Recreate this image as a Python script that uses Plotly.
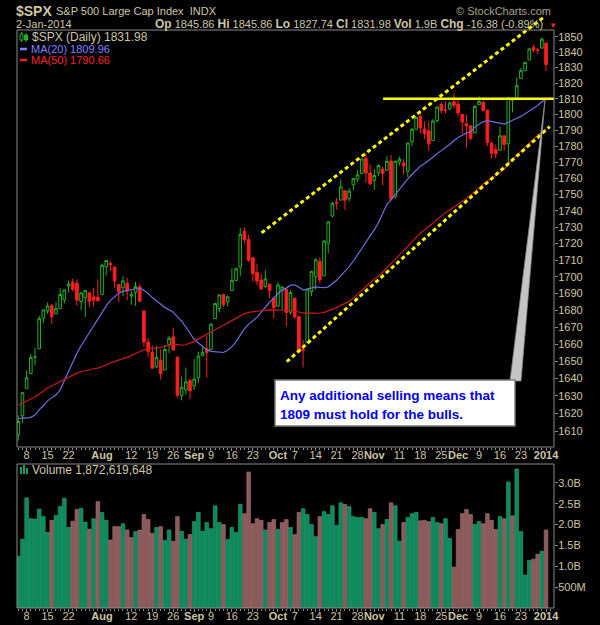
import pandas as pd
import numpy as np
import plotly.graph_objects as go

# ---------------- data ----------------
holidays = ["2013-07-04", "2013-09-02", "2013-11-28", "2013-12-25", "2014-01-01"]
dates = [d for d in pd.bdate_range("2013-07-03", "2014-01-02") if d.strftime("%Y-%m-%d") not in holidays]

opens = [
    1607.78, 1618.65, 1634.20, 1642.89, 1652.50, 1657.41, 1675.26, 1679.59, 1682.70, 1677.91,
    1681.05, 1686.15, 1694.41, 1696.63, 1696.06, 1685.21, 1687.31, 1690.32, 1687.92, 1687.76,
    1689.42, 1706.10, 1708.01, 1705.79, 1695.30, 1693.35, 1696.10, 1688.37, 1690.65, 1693.88,
    1679.61, 1661.22, 1655.25, 1646.81, 1650.66, 1645.03, 1659.92, 1664.29, 1652.54, 1630.25,
    1633.50, 1638.89, 1635.95, 1640.72, 1653.28, 1657.44, 1656.85, 1675.11, 1681.04, 1689.21,
    1685.04, 1691.70, 1697.73, 1705.74, 1727.34, 1722.44, 1711.44, 1702.60, 1698.02, 1694.05,
    1695.52, 1687.26, 1682.41, 1691.90, 1692.35, 1678.79, 1687.15, 1676.22, 1656.99, 1660.88,
    1691.09, 1699.86, 1709.17, 1700.49, 1720.17, 1736.72, 1745.20, 1746.48, 1752.27, 1747.48,
    1756.01, 1759.42, 1762.93, 1772.27, 1763.24, 1758.70, 1763.40, 1765.67, 1765.00, 1770.74,
    1748.37, 1769.96, 1769.51, 1764.37, 1782.75, 1790.66, 1798.82, 1790.79, 1789.59, 1783.52,
    1796.19, 1806.33, 1802.87, 1803.48, 1808.01, 1806.55, 1800.10, 1794.08, 1792.82, 1788.36,
    1806.21, 1807.60, 1802.76, 1781.71, 1777.98, 1777.48, 1786.47, 1781.46, 1809.00, 1810.39,
    1822.92, 1828.02, 1834.96, 1842.97, 1841.47, 1842.61, 1845.86]
highs = [
    1618.97, 1632.07, 1644.68, 1654.18, 1657.92, 1676.63, 1680.19, 1684.51, 1683.73, 1684.75,
    1693.12, 1692.09, 1697.61, 1698.78, 1698.38, 1690.94, 1691.85, 1690.92, 1693.19, 1698.43,
    1707.85, 1709.67, 1709.24, 1705.79, 1695.30, 1700.18, 1699.42, 1691.49, 1696.81, 1695.52,
    1679.61, 1663.60, 1659.18, 1658.92, 1656.99, 1659.55, 1664.85, 1669.51, 1652.54, 1641.18,
    1646.41, 1640.08, 1651.35, 1655.72, 1659.17, 1664.83, 1672.40, 1684.09, 1689.13, 1689.97,
    1688.73, 1704.95, 1705.52, 1729.44, 1729.86, 1725.23, 1711.44, 1707.63, 1701.71, 1703.85,
    1695.52, 1687.26, 1696.55, 1693.87, 1692.35, 1691.94, 1687.15, 1676.79, 1662.47, 1692.56,
    1703.44, 1711.03, 1711.57, 1721.76, 1733.45, 1745.31, 1747.79, 1759.33, 1752.27, 1753.94,
    1759.82, 1764.99, 1772.09, 1775.22, 1768.53, 1765.67, 1768.78, 1767.03, 1773.74, 1774.54,
    1770.78, 1773.44, 1771.78, 1782.00, 1791.53, 1798.22, 1802.33, 1795.51, 1795.73, 1797.16,
    1804.84, 1808.10, 1808.42, 1808.27, 1813.55, 1810.02, 1800.10, 1799.80, 1792.82, 1806.04,
    1811.52, 1808.52, 1802.97, 1782.99, 1780.92, 1792.22, 1786.77, 1811.08, 1810.88, 1823.75,
    1829.75, 1833.32, 1842.84, 1844.89, 1842.47, 1849.44, 1845.86]
lows = [
    1604.57, 1614.71, 1634.20, 1642.89, 1647.66, 1657.41, 1672.33, 1677.89, 1671.84, 1677.91,
    1681.05, 1684.08, 1690.67, 1691.13, 1682.57, 1680.07, 1676.03, 1681.86, 1682.42, 1684.94,
    1689.42, 1700.68, 1703.55, 1693.29, 1684.91, 1688.38, 1686.02, 1683.35, 1682.62, 1684.83,
    1658.59, 1652.61, 1645.84, 1646.08, 1639.43, 1645.03, 1654.81, 1656.02, 1629.05, 1627.47,
    1630.88, 1628.05, 1633.41, 1637.41, 1653.07, 1640.62, 1656.85, 1675.11, 1678.70, 1681.96,
    1682.22, 1691.70, 1697.73, 1700.35, 1720.20, 1708.89, 1697.10, 1694.90, 1691.88, 1693.11,
    1687.11, 1674.99, 1682.07, 1680.34, 1670.36, 1677.33, 1674.70, 1655.03, 1646.47, 1660.88,
    1688.52, 1692.13, 1695.93, 1700.49, 1714.12, 1735.74, 1740.67, 1746.48, 1740.50, 1745.50,
    1752.45, 1757.67, 1762.93, 1757.24, 1755.72, 1752.70, 1761.56, 1755.76, 1764.40, 1746.20,
    1747.63, 1767.85, 1762.29, 1760.64, 1780.22, 1790.66, 1788.00, 1784.72, 1777.23, 1783.52,
    1794.70, 1800.58, 1800.77, 1802.77, 1803.98, 1798.60, 1787.85, 1779.09, 1783.38, 1788.36,
    1806.21, 1801.75, 1780.09, 1772.28, 1772.45, 1777.48, 1777.05, 1767.99, 1801.35, 1810.25,
    1822.92, 1828.02, 1834.96, 1839.81, 1838.77, 1842.41, 1827.74]
closes = [
    1615.41, 1631.89, 1640.46, 1652.32, 1652.62, 1675.02, 1680.19, 1682.50, 1676.26, 1680.91,
    1689.37, 1692.09, 1695.53, 1692.39, 1685.94, 1690.25, 1691.65, 1685.33, 1685.96, 1685.73,
    1706.87, 1709.67, 1707.14, 1697.37, 1690.91, 1697.48, 1691.42, 1689.47, 1694.16, 1685.39,
    1661.32, 1655.83, 1646.06, 1652.35, 1642.80, 1656.96, 1663.50, 1656.78, 1630.48, 1634.96,
    1638.17, 1632.97, 1639.77, 1653.08, 1655.08, 1655.17, 1671.71, 1683.99, 1689.13, 1683.42,
    1687.99, 1697.60, 1704.76, 1725.52, 1722.34, 1709.91, 1701.84, 1697.42, 1692.77, 1698.67,
    1691.75, 1681.55, 1695.00, 1693.87, 1678.66, 1690.50, 1676.12, 1655.45, 1656.40, 1692.56,
    1703.20, 1710.14, 1698.06, 1721.54, 1733.15, 1744.50, 1744.66, 1754.67, 1746.38, 1752.07,
    1759.77, 1762.11, 1771.95, 1763.31, 1756.54, 1761.64, 1767.93, 1762.97, 1770.49, 1747.15,
    1770.61, 1771.89, 1767.69, 1782.00, 1790.62, 1798.18, 1791.53, 1787.87, 1781.37, 1795.85,
    1804.76, 1802.48, 1802.75, 1807.23, 1805.81, 1800.90, 1795.15, 1792.81, 1785.03, 1805.09,
    1808.37, 1802.62, 1782.22, 1775.50, 1775.32, 1786.54, 1781.00, 1810.65, 1809.60, 1818.32,
    1827.99, 1833.32, 1842.02, 1841.40, 1841.07, 1848.36, 1831.98]
# closes before the chart window (for the moving averages)
prior_closes = [
    1578.79, 1585.16, 1582.24, 1593.61, 1597.57,
    1582.70, 1597.59, 1614.42, 1617.50, 1625.96, 1632.69, 1626.67, 1633.70, 1633.77, 1650.34, 1658.78,
    1650.47, 1667.47, 1666.29, 1669.16, 1655.35, 1650.51, 1649.60, 1660.06, 1648.36, 1654.41, 1630.74,
    1640.42, 1631.38, 1608.90, 1622.56, 1643.38, 1642.81, 1626.13, 1612.52, 1636.36, 1626.73, 1639.04,
    1651.81, 1628.93, 1588.19, 1592.43, 1573.09, 1588.03, 1603.26, 1613.20, 1606.28,
    1614.96, 1614.08]
volume_b = [
    1.24, 1.65, 2.64, 2.14, 2.13, 2.37, 2.19, 1.81, 2.10, 2.22,
    2.43, 2.63, 1.93, 2.08, 2.36, 2.39, 2.06, 1.89, 2.14, 2.55,
    2.29, 2.10, 1.63, 1.95, 1.95, 2.02, 1.87, 1.69, 1.83, 1.87,
    2.24, 2.12, 1.79, 1.93, 1.95, 1.62, 1.87, 1.60, 2.19, 1.84,
    1.65, 1.76, 2.07, 2.29, 1.84, 2.05, 1.90, 2.45, 2.05, 2.00,
    1.64, 1.93, 1.81, 2.48, 2.26, 3.26, 2.02, 2.14, 2.10, 1.87,
    2.05, 2.12, 1.88, 2.05, 2.12, 1.93, 1.76, 2.29, 2.38, 2.24,
    2.00, 1.71, 2.19, 2.31, 2.24, 2.45, 1.98, 2.52, 2.48, 2.43,
    2.19, 2.17, 2.17, 2.14, 2.38, 2.29, 1.90, 2.00, 2.12, 2.52,
    2.45, 1.60, 2.05, 2.17, 2.26, 2.29, 2.09, 2.10, 2.07, 2.17,
    2.05, 2.02, 2.14, 1.67, 0.98, 1.88, 2.26, 2.36, 2.24, 2.00,
    2.07, 2.02, 2.26, 2.10, 1.88, 2.19, 2.14, 3.02, 2.21, 3.33,
    1.83, 0.79, 1.14, 1.17, 1.29, 1.36, 1.87]

tick_dates = ["2013-07-08", "2013-07-15", "2013-07-22", "2013-08-01", "2013-08-12", "2013-08-19",
              "2013-08-26", "2013-09-03", "2013-09-09", "2013-09-16", "2013-09-23", "2013-10-01",
              "2013-10-07", "2013-10-14", "2013-10-21", "2013-10-28", "2013-11-01", "2013-11-11",
              "2013-11-18", "2013-11-25", "2013-12-02", "2013-12-09", "2013-12-16", "2013-12-23",
              "2014-01-02"]
tick_text = ["8", "15", "22", "<b>Aug</b>", "12", "19", "26", "<b>Sep</b>", "9", "16", "23", "<b>Oct</b>",
             "7", "14", "21", "28", "<b>Nov</b>", "11", "18", "25", "<b>Dec</b>", "9", "16", "23", "<b>2014</b>"]
price_ticks = list(range(1610, 1851, 10))
vol_ticks = [0.5e9, 1.0e9, 1.5e9, 2.0e9, 2.5e9, 3.0e9]
vol_tick_text = ["500M", "1.0B", "1.5B", "2.0B", "2.5B", "3.0B"]

# drawn annotation lines (date index, price)
upper_channel = ([58.1, 125.7], [1726.5, 1863.3])
lower_channel = ([64.1, 126.9], [1649.8, 1792.3])
support_level = 1810
support_start = 87.1

# ---------------- derived ----------------
date_str = [d.strftime("%Y-%m-%d") for d in dates]
x = list(range(len(dates)))
tick_pos = [date_str.index(t) for t in tick_dates]
allc = pd.Series(prior_closes + closes)
ma20 = allc.rolling(20).mean().iloc[len(prior_closes):].tolist()
ma50 = allc.rolling(50).mean().iloc[len(prior_closes):].tolist()
prev = [prior_closes[-1]] + closes[:-1]
GREEN_V, RED_V = "#0b8a5c", "#8c5a5b"
vcol = [GREEN_V if c >= p else RED_V for c, p in zip(closes, prev)]
vline = ["#2fa577" if c >= p else "#aa7474" for c, p in zip(closes, prev)]
volumes = [v * 1e9 for v in volume_b]

TXT = "#cec7a3"
BORDER = "#8a8a8a"
FONT = "Liberation Sans, Arial, sans-serif"

W, H = 600, 625
def px(v): return v / W
def py(v): return 1 - v / H

XR = [-0.3, 127.9]

fig = go.Figure()
fig.add_trace(go.Candlestick(
    x=x, open=opens, high=highs, low=lows, close=closes,
    increasing=dict(line=dict(color="#22b022", width=1), fillcolor="#000000"),
    decreasing=dict(line=dict(color="#ff1e1e", width=1), fillcolor="#ff1e1e"),
    whiskerwidth=0, xaxis="x", yaxis="y", showlegend=False, hoverinfo="skip"))
fig.add_trace(go.Scatter(x=x, y=ma20, mode="lines", line=dict(color="#6e6ee0", width=1.2),
                         xaxis="x", yaxis="y", hoverinfo="skip"))
fig.add_trace(go.Scatter(x=x, y=ma50, mode="lines", line=dict(color="#cc1818", width=1.2),
                         xaxis="x", yaxis="y", hoverinfo="skip"))
for xs, ys in (upper_channel, lower_channel):
    fig.add_trace(go.Scatter(x=xs, y=ys, mode="lines",
                             line=dict(color="#ffff00", width=3, dash="4px,3px"),
                             xaxis="x", yaxis="y", hoverinfo="skip"))
fig.add_trace(go.Scatter(x=[support_start, XR[1]], y=[support_level, support_level], mode="lines",
                         line=dict(color="#ffff00", width=2.5), xaxis="x", yaxis="y", hoverinfo="skip"))
fig.add_trace(go.Bar(x=x, y=volumes, marker=dict(color=vcol, line=dict(color=vline, width=0.6)),
                     xaxis="x2", yaxis="y2", hoverinfo="skip"))

axis_common = dict(showgrid=False, zeroline=False, showline=False, color=TXT, automargin=False,
                   tickfont=dict(family=FONT, size=11, color=TXT))
xcommon = dict(domain=[px(17), px(554)], range=XR, tickmode="array", tickangle=0,
               tickvals=tick_pos, ticktext=tick_text, ticks="outside", ticklen=3, tickcolor=BORDER,
               ticklabelstandoff=-5,
               minor=dict(tickmode="linear", tick0=0, dtick=1, ticks="outside", ticklen=2, tickcolor=BORDER))
ycommon = dict(side="right", tickmode="array", ticks="outside", ticklen=3, tickcolor=BORDER,
               ticklabelstandoff=-2)
fig.update_layout(
    width=W, height=H, margin=dict(l=0, r=0, t=0, b=0, autoexpand=False),
    paper_bgcolor="#000000", plot_bgcolor="rgba(0,0,0,0)", showlegend=False, bargap=0.12,
    boxgap=0.1,
    font=dict(family=FONT, color=TXT),
    xaxis=dict(anchor="y", rangeslider=dict(visible=False), **xcommon, **axis_common),
    yaxis=dict(domain=[py(447), py(10)], type="log", range=[3.20438, 3.27126], anchor="x",
               tickvals=price_ticks, ticktext=[str(t) for t in price_ticks], **ycommon, **axis_common),
    xaxis2=dict(anchor="y2", **xcommon, **axis_common),
    yaxis2=dict(domain=[py(608), py(464)], range=[0, 3.45e9], anchor="x2",
                tickvals=vol_ticks, ticktext=vol_tick_text, **ycommon, **axis_common),
)

shapes = []
# panel borders
for top, bot in ((30, 447), (464, 608)):
    shapes.append(dict(type="rect", xref="paper", yref="paper", x0=px(17), x1=px(554),
                       y0=py(bot), y1=py(top), line=dict(color=BORDER, width=1), layer="above"))
# legend icons
shapes.append(dict(type="line", xref="paper", yref="paper", x0=px(21.5), x1=px(21.5), y0=py(42), y1=py(32),
                   line=dict(color="#22b022", width=1)))
shapes.append(dict(type="rect", xref="paper", yref="paper", x0=px(20), x1=px(23), y0=py(40), y1=py(34),
                   line=dict(color="#22b022", width=1), fillcolor="#000"))
shapes.append(dict(type="line", xref="paper", yref="paper", x0=px(26), x1=px(26), y0=py(42), y1=py(33),
                   line=dict(color="#22b022", width=1)))
shapes.append(dict(type="rect", xref="paper", yref="paper", x0=px(24.5), x1=px(27.5), y0=py(40), y1=py(35),
                   line=dict(color="#22b022", width=1), fillcolor="#22b022"))
shapes.append(dict(type="line", xref="paper", yref="paper", x0=px(20), x1=px(27), y0=py(49), y1=py(49),
                   line=dict(color="#8080ff", width=2.5)))
shapes.append(dict(type="line", xref="paper", yref="paper", x0=px(20), x1=px(27), y0=py(60), y1=py(60),
                   line=dict(color="#ff2020", width=2.5)))
# volume icon
for bx, bh in ((20, 7), (23, 9), (26, 6)):
    shapes.append(dict(type="rect", xref="paper", yref="paper", x0=px(bx), x1=px(bx + 2),
                       y0=py(474), y1=py(474 - bh), line=dict(width=0), fillcolor="#11a060"))
# callout box + pointer
shapes.append(dict(type="path", xref="paper", yref="paper", layer="above",
                   path=f"M {px(510)} {py(381)} L {px(521)} {py(381)} L {px(545)} {py(100)} Z",
                   fillcolor="#c4c4c4", line=dict(color="#8a8a8a", width=0.8)))
shapes.append(dict(type="rect", xref="paper", yref="paper", x0=px(275), x1=px(515), y0=py(426), y1=py(380),
                   fillcolor="#ffffff", line=dict(color="#7a7a7a", width=1.5), layer="above"))
fig.update_layout(shapes=shapes)

ann = []
def t(xp, yp, text, size=11, color=TXT, anchor="left", bold=False):
    ann.append(dict(x=px(xp), y=py(yp), xref="paper", yref="paper", text=(f"<b>{text}</b>" if bold else text),
                    showarrow=False, xanchor=anchor, yanchor="middle",
                    font=dict(family=FONT, size=size, color=color)))

t(14, 11, "$SPX", size=14, bold=True)
t(54, 11, "S&amp;P 500 Large Cap Index  INDX", size=11)
t(553, 11, "© StockCharts.com", size=11, color="#a9a58e", anchor="right")
t(14, 24, "2-Jan-2014", size=11)
t(545, 24, "<b style='font-size:12px'>Op</b> 1845.86 <b style='font-size:12px'>Hi</b> 1845.86 "
           "<b style='font-size:12px'>Lo</b> 1827.74 <b style='font-size:12px'>Cl</b> 1831.98 "
           "<b style='font-size:12px'>Vol</b> 1.9B <b style='font-size:12px'>Chg</b> -16.38 (-0.89%)",
  size=11, anchor="right")
t(547, 25, "▼", size=8, color="#ff1e1e")
t(30, 37, "$SPX (Daily) 1831.98", size=12)
t(29, 49, "MA(20) 1809.96", size=11, color="#8080ff")
t(29, 60, "MA(50) 1790.66", size=11, color="#ff2020")
t(30, 469.5, "Volume 1,872,619,648", size=12)
t(278, 395, "Any additional selling means that", size=13.5, color="#0000ee", bold=True)
t(278, 414, "1809 must hold for the bulls.", size=13.5, color="#0000ee", bold=True)
fig.update_layout(annotations=ann)

fig.write_html("out.html")
